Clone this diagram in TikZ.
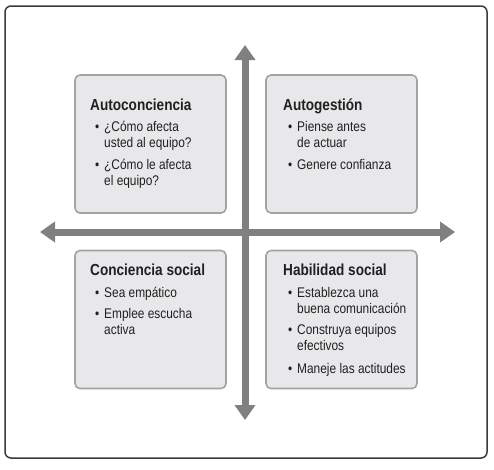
\documentclass[tikz,border=0pt]{standalone}
\usepackage{fontspec}
\setmainfont{Liberation Sans}[FakeStretch=0.85]
\usetikzlibrary{arrows.meta}
\definecolor{framegray}{HTML}{3A3A3A}
\definecolor{boxgray}{HTML}{A3A3A5}
\definecolor{boxfill}{HTML}{E8E8EA}
\definecolor{axisgray}{HTML}{808080}
\definecolor{textgray}{HTML}{231F20}
\tikzstyle{frame}=[
	draw=framegray,
	line width=1.5pt,
	rounded corners=6pt
]
\tikzstyle{quad}=[
	draw=boxgray,
	line width=1.6pt,
	fill=boxfill,
	rounded corners=5pt,
	minimum width=151pt,
	minimum height=138pt,
	inner sep=0pt
]
\tikzstyle{qtitle}=[
	anchor=base west,
	inner sep=0pt,
	text=textgray,
	font=\bfseries\fontsize{16}{18}\selectfont
]
\tikzstyle{qitem}=[
	qtitle,
	font=\fontsize{14}{16.5}\selectfont
]
\tikzstyle{axis}=[
	draw=axisgray,
	line width=7pt,
	{Triangle[width=20pt,length=15pt]}-{Triangle[width=20pt,length=15pt]}
]
\newcommand{\bitem}[1]{\parbox[t]{140pt}{\raggedright\leavevmode\llap{\textbullet\hspace{5pt}}#1}}

\begin{document}
\begin{tikzpicture}[x=1pt, y=-1pt]
\useasboundingbox (0,0) rectangle (494,469);
\draw[frame] (5,6) rectangle (487,458);

\foreach \nm/\x/\y in {tl/150.5/144, tr/341.5/144, bl/150.5/319.5, br/341.5/319.5}{
    \node[quad] (\nm) at (\x,\y) {};
}

\coordinate (up) at (245,45);
\coordinate (down) at (245,420);
\coordinate (left) at (40,232);
\coordinate (right) at (455,232);
\draw[axis] (down) -- (up);
\draw[axis] (left) -- (right);

\node[qtitle] (tlt) at (90,110) {Autoconciencia};
\node[qitem] (tl1) at (104,131) {\bitem{¿Cómo afecta\\usted al equipo?}};
\node[qitem] (tl2) at (104,169) {\bitem{¿Cómo le afecta\\el equipo?}};

\node[qtitle] (trt) at (283,110) {Autogestión};
\node[qitem] (tr1) at (297,131) {\bitem{Piense antes\\de actuar}};
\node[qitem] (tr2) at (297,169) {\bitem{Genere confianza}};

\node[qtitle] (blt) at (90,275) {Conciencia social};
\node[qitem] (bl1) at (104,297) {\bitem{Sea empático}};
\node[qitem] (bl2) at (104,318) {\bitem{Emplee escucha\\activa}};

\node[qtitle] (brt) at (283,275) {Habilidad social};
\node[qitem] (br1) at (297,297) {\bitem{Establezca una\\buena comunicación}};
\node[qitem] (br2) at (297,334) {\bitem{Construya equipos\\efectivos}};
\node[qitem] (br3) at (297,373) {\bitem{Maneje las actitudes}};
\end{tikzpicture}
\end{document}
